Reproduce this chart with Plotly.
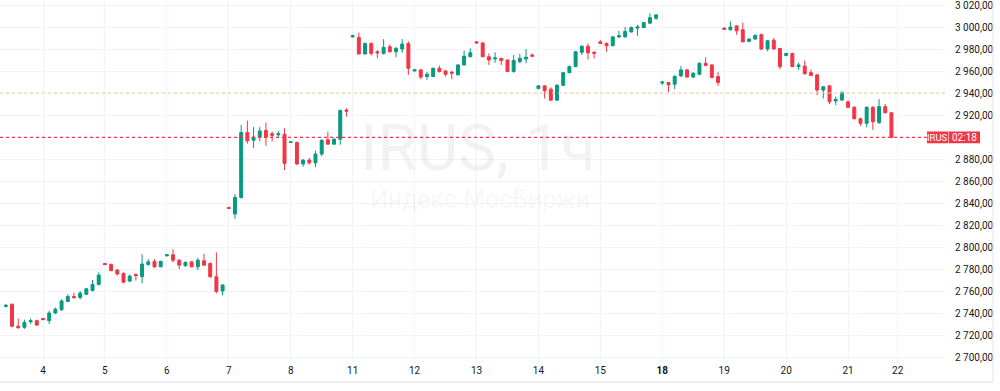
import plotly.graph_objects as go

# ---- data (hourly candles, IRUS) ----
day_labels = ["1", "4", "5", "6", "7", "8", "11", "12", "13", "14", "15", "18", "19", "20", "21", "22"]
candles_per_day = [6, 10, 10, 10, 10, 10, 10, 10, 10, 10, 10, 10, 10, 10, 8, 0]
bold_days = ["18"]

opens = [2746, 2748, 2728, 2727, 2732, 2733,
         2735, 2733, 2740, 2743, 2750.5, 2755, 2754, 2757, 2760.5, 2766,
         2785, 2784, 2779, 2776, 2769, 2775, 2773, 2784, 2787, 2782,
         2792, 2793, 2788, 2783, 2786.5, 2782, 2787.5, 2785, 2773, 2760,
         2836, 2830, 2845, 2904, 2897, 2900, 2906, 2903, 2902, 2902.5,
         2895, 2895, 2875.5, 2879, 2876.5, 2884.5, 2897.5, 2893.5, 2898, 2924.5,
         2991, 2990.5, 2975.5, 2985, 2977.5, 2976, 2982, 2977.5, 2980, 2985,
         2960, 2961, 2955, 2955, 2962.5, 2960, 2959, 2956.5, 2965.5, 2973,
         2986.5, 2985.5, 2973, 2971, 2971.5, 2970, 2959.5, 2968.5, 2971, 2974.5,
         2944, 2946.5, 2943.5, 2933.5, 2947, 2958.5, 2964, 2977, 2982.5, 2977,
         2986.5, 2985, 2983, 2991, 2991, 2995.5, 2999, 2999.5, 3003.5, 3008,
         2949, 2949.5, 2948, 2955.5, 2961, 2954.5, 2957, 2967, 2965.5, 2955,
         2999, 2997.5, 3001, 2997.5, 2987, 2989, 2993, 2980, 2988, 2980.5,
         2974, 2976, 2964, 2964.5, 2958.5, 2956.5, 2942.7, 2946.5, 2932.7, 2933.6,
         2932, 2927, 2916.6, 2912.4, 2927, 2913, 2927.6, 2922]
highs = [2748, 2748.5, 2735, 2734, 2735, 2734,
         2735.5, 2742, 2745, 2752.5, 2757, 2758.5, 2760, 2762.5, 2770, 2777,
         2785.5, 2785, 2780, 2777, 2775, 2776, 2793.5, 2789, 2789, 2787.5,
         2793.5, 2798, 2789, 2787, 2787, 2790, 2794, 2786, 2795, 2766,
         2836.5, 2848, 2911, 2915, 2909, 2909, 2913, 2905, 2905.5, 2908,
         2896, 2896, 2880, 2881, 2887.5, 2898, 2905, 2899, 2925, 2926,
         2993, 2995, 2986, 2986, 2979, 2989, 2984, 2982, 2989, 2987,
         2961.5, 2962, 2959, 2963, 2965, 2961, 2960, 2966, 2978.5, 2980.5,
         2987, 2986, 2976, 2977, 2972, 2970.5, 2974.5, 2975.5, 2980, 2976,
         2947, 2947, 2945, 2948, 2959, 2965, 2978, 2983.5, 2985, 2978,
         2988, 2986, 2992, 2996.5, 3000, 3000.5, 3002, 3004.5, 3012.5, 3011.5,
         2951, 2950, 2956.5, 2964.5, 2962, 2959, 2968, 2972.5, 2966, 2959,
         2999.5, 3005, 3001.5, 3004, 2990, 2993, 2994, 2988, 2990, 2981,
         2976.5, 2976.5, 2967.5, 2969.5, 2961.5, 2957, 2946, 2947, 2936.7, 2941.8,
         2933, 2928, 2917.5, 2928, 2928, 2934.5, 2930, 2922.5]
lows = [2745, 2727, 2726, 2725.5, 2730, 2728.5,
        2733.5, 2730, 2739, 2742, 2750, 2753, 2752.5, 2756.5, 2759.5, 2765,
        2783.5, 2778, 2774, 2767, 2768, 2769.5, 2767, 2783, 2781, 2781.5,
        2791.5, 2786, 2780, 2782, 2781.5, 2779, 2783, 2772, 2758, 2756,
        2834.5, 2825.5, 2844, 2894, 2890, 2896, 2892, 2896, 2899, 2870,
        2894.5, 2874.5, 2873, 2875, 2872.5, 2882.5, 2893, 2893, 2893, 2918.5,
        2990.5, 2975, 2975, 2974, 2971.5, 2975, 2977, 2972.5, 2976.5, 2956.5,
        2959.5, 2952.5, 2952, 2954.5, 2958.5, 2955, 2952.5, 2956, 2965, 2972.5,
        2985, 2972.5, 2965.5, 2967.5, 2965.5, 2959, 2958.5, 2967, 2967, 2973,
        2943.5, 2935, 2933, 2933, 2946.5, 2958, 2963.5, 2974.5, 2970.5, 2971.5,
        2984.5, 2977.5, 2982.5, 2990, 2990.5, 2995, 2992, 2999, 3003, 3006.5,
        2947.5, 2941, 2943.5, 2954.5, 2954, 2953.5, 2956.5, 2964.5, 2953.5, 2946.5,
        2997.5, 2997, 2993, 2986, 2986, 2988.5, 2979, 2978, 2979.5, 2961.5,
        2973.5, 2963.5, 2961, 2957, 2955.5, 2938, 2935, 2930, 2929, 2933,
        2926.5, 2916, 2910, 2908.8, 2906.4, 2912, 2921.5, 2899]
closes = [2747, 2728, 2726.5, 2731.5, 2733, 2729,
          2734, 2740, 2743.5, 2751, 2755, 2754, 2758, 2762, 2766, 2774.5,
          2784, 2778.5, 2775.5, 2768, 2773.5, 2774, 2784.5, 2786.5, 2782, 2787,
          2793, 2788, 2783.5, 2786, 2782, 2788, 2783.5, 2773, 2759.5, 2765.5,
          2835, 2845, 2904, 2896.5, 2900, 2905.5, 2900, 2901.5, 2903, 2876,
          2895.5, 2875.5, 2879, 2876.5, 2884.5, 2897, 2893.5, 2898, 2924, 2923.5,
          2992, 2975.5, 2985, 2976, 2976.5, 2981.5, 2977.5, 2980.5, 2984.5, 2962.5,
          2961, 2954.5, 2957, 2962.5, 2959.5, 2957, 2958, 2965.5, 2973.5, 2976.5,
          2985.5, 2973, 2970, 2971.8, 2969.5, 2959.5, 2969.5, 2971.5, 2972.5, 2973.5,
          2946.5, 2942, 2933.5, 2947, 2958.5, 2964, 2977.5, 2982.5, 2976.5, 2976,
          2985, 2983, 2991, 2992, 2996, 2999.5, 3000, 3004, 3008.5, 3011,
          2950, 2947.5, 2955, 2961, 2954.5, 2958, 2967, 2965, 2954, 2949.5,
          2998, 3000, 2996.5, 2986.5, 2989, 2992.5, 2980, 2987.5, 2980, 2964,
          2976, 2964, 2965.5, 2957.5, 2956, 2942.7, 2945.7, 2932, 2934.2, 2940.3,
          2927, 2916.6, 2912.4, 2927, 2913.9, 2927.6, 2922, 2899.7]
prev_close_level = 2940
y_ticks = list(range(2700, 3021, 20))
symbol = "IRUS"
countdown = "02:18"
watermark_title = "IRUS, 1ч"
watermark_sub = "Индекс МосБиржи"

# ---- build ----
GREEN = "#089981"
RED = "#F23645"
GRID = "#f0f3fa"
TEXT = "#131722"

n = len(closes)
xs = list(range(n))

tick_vals, tick_text = [], []
start = 0
for lab, cnt in zip(day_labels, candles_per_day):
    if lab != day_labels[0]:
        tick_vals.append(start)
        tick_text.append(f"<b>{lab}</b>" if lab in bold_days else lab)
    start += cnt

last = closes[-1]

def fmt(v):
    return f"{v // 1000} {v % 1000:03d},00"

# the price label box covers the tick nearest the last price
hidden_tick = min(y_ticks, key=lambda v: abs(v - last))
y_text = ["" if v == hidden_tick else fmt(v) for v in y_ticks]

fig = go.Figure()
fig.add_trace(go.Candlestick(
    x=xs, open=opens, high=highs, low=lows, close=closes,
    increasing=dict(line=dict(color=GREEN, width=1), fillcolor=GREEN),
    decreasing=dict(line=dict(color=RED, width=1), fillcolor=RED),
    whiskerwidth=0, hoverinfo="skip", showlegend=False,
))

W, H = 1000, 391
ML, MR, MT, MB = 0, 55, 0, 28
pw, ph = W - ML - MR, H - MT - MB
step = 6.193
x0px = 5.84
x_range = [-x0px / step, (pw - x0px) / step]
y_top = 3020 + 5 / 1.1
y_bot = y_top - ph / 1.1

fig.update_layout(
    width=W, height=H,
    margin=dict(l=ML, r=MR, t=MT, b=MB),
    paper_bgcolor="white", plot_bgcolor="white",
    font=dict(family="Roboto, sans-serif", color=TEXT, size=10),
    boxgap=0.32,
    xaxis=dict(range=x_range, tickvals=tick_vals, ticktext=tick_text,
               showgrid=True, gridcolor=GRID, gridwidth=1, zeroline=False,
               rangeslider=dict(visible=False), showline=False, ticks="",
               tickfont=dict(size=10, color=TEXT), fixedrange=True),
    yaxis=dict(range=[y_bot, y_top], side="right", tickvals=y_ticks,
               ticktext=y_text, showgrid=True,
               gridcolor=GRID, gridwidth=1, zeroline=False, ticks="",
               ticklabelstandoff=9, ticklabeloverflow="allow",
               tickfont=dict(size=10, color=TEXT), showline=False),
)

# previous close (orange dotted) and last price (red dotted)
fig.add_shape(type="line", xref="paper", yref="y", x0=0, x1=1,
              y0=prev_close_level, y1=prev_close_level,
              line=dict(color="#f5c9a0", width=1, dash="dot"))
box_left = 927 / pw
fig.add_shape(type="line", xref="paper", yref="y", x0=0, x1=box_left,
              y0=last, y1=last, line=dict(color=RED, width=1.3, dash="dot"))

# price label box
box_right = 980 / pw
sep = 948.5 / pw
fig.add_shape(type="rect", xref="paper", yref="y", x0=box_left, x1=box_right,
              y0=last - 5.3, y1=last + 5.3, fillcolor=RED, line=dict(width=0),
              layer="above")
fig.add_shape(type="line", xref="paper", yref="y", x0=sep, x1=sep,
              y0=last - 5.3, y1=last + 5.3,
              line=dict(color="rgba(255,255,255,0.55)", width=1), layer="above")
fig.add_annotation(xref="paper", yref="y", x=(box_left + sep) / 2, y=last,
                   xanchor="center", yanchor="middle",
                   text=symbol, showarrow=False,
                   font=dict(size=9.5, color="white", family="Roboto, sans-serif"))
fig.add_annotation(xref="paper", yref="y", x=(sep + box_right) / 2, y=last,
                   xanchor="center", yanchor="middle",
                   text=countdown, showarrow=False,
                   font=dict(size=10, color="white", family="Roboto, sans-serif"))

# watermark
fig.add_annotation(xref="paper", yref="paper", x=478 / pw, y=1 - 148 / ph,
                   xanchor="center", yanchor="middle",
                   text=watermark_title, showarrow=False,
                   font=dict(size=64, color="rgba(19,23,34,0.055)",
                             family="Roboto, sans-serif"))
fig.add_annotation(xref="paper", yref="paper", x=480 / pw, y=1 - 199 / ph,
                   xanchor="center", yanchor="middle",
                   text=watermark_sub, showarrow=False,
                   font=dict(size=25, color="rgba(19,23,34,0.055)",
                             family="Roboto, sans-serif"))

# frame lines (bottom of time scale and right border)
fig.add_shape(type="line", xref="paper", yref="paper", x0=0, x1=993 / pw,
              y0=1 - 382 / ph, y1=1 - 382 / ph,
              line=dict(color="#e0e3eb", width=1))
fig.add_shape(type="line", xref="paper", yref="paper", x0=993 / pw, x1=993 / pw,
              y0=1 - 382 / ph, y1=1,
              line=dict(color="#e0e3eb", width=1))

fig.write_html("out.html",
               config={"displayModeBar": False, "staticPlot": True},
               post_script="document.body.style.margin='0';"
                           "document.body.style.overflow='hidden';")
